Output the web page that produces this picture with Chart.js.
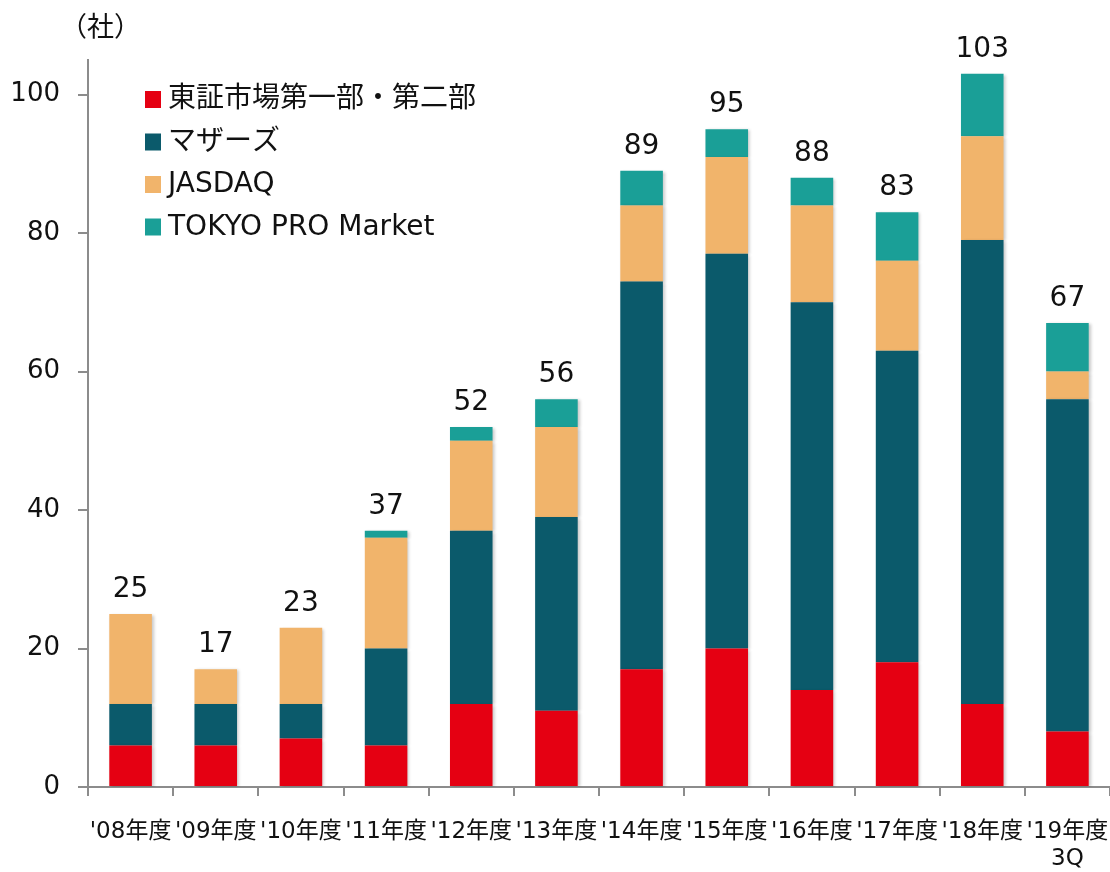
<!DOCTYPE html>
<html>
<head>
<meta charset="utf-8">
<script src="https://cdn.jsdelivr.net/npm/chart.js@4"></script>
<style>
  html, body { margin: 0; padding: 0; background: #fff; }
  #wrap { width: 1110px; height: 872px; }
</style>
</head>
<body>
<div id="wrap"><canvas id="chart"></canvas></div>
<script>
// データ（社数）
const years = ["'08年度", "'09年度", "'10年度", "'11年度", "'12年度", "'13年度",
    "'14年度", "'15年度", "'16年度", "'17年度", "'18年度", ["'19年度", "3Q"]];
const tosho = [6, 6, 7, 6, 12, 11, 17, 20, 14, 18, 12, 8];
const mothers = [6, 6, 5, 14, 25, 28, 56, 57, 56, 45, 67, 48];
const jasdaq = [13, 5, 11, 16, 13, 13, 11, 14, 14, 13, 15, 4];
const tpm = [0, 0, 0, 1, 2, 4, 5, 4, 4, 7, 9, 7];
const totals = [25, 17, 23, 37, 52, 56, 89, 95, 88, 83, 103, 67];
const yTicks = [0, 20, 40, 60, 80, 100];

const FONT = "'DejaVu Sans', 'Noto Sans CJK JP', sans-serif";
const COLORS = {
    tosho: '#e50012',
    mothers: '#0b5a6b',
    jasdaq: '#f1b46b',
    tpm: '#1a9f97',
    axis: '#8c8c8c'
};

// 棒の影
const shadowPlugin = {
    id: 'shadow',
    beforeDatasetsDraw(chart) {
        const ctx = chart.ctx;
        ctx.save();
        ctx.shadowColor = 'rgba(0,0,0,0.22)';
        ctx.shadowBlur = 3;
        ctx.shadowOffsetX = 2;
        ctx.shadowOffsetY = 1;
    },
    afterDatasetsDraw(chart) {
        chart.ctx.restore();
    }
};

// 合計ラベル・凡例・単位
const extrasPlugin = {
    id: 'extras',
    afterDraw(chart) {
        const ctx = chart.ctx;
        const x = chart.scales.x;
        const y = chart.scales.y;
        ctx.save();
        ctx.fillStyle = '#111';
        ctx.font = '28px ' + FONT;
        ctx.textAlign = 'center';
        ctx.textBaseline = 'alphabetic';
        totals.forEach((t, i) => {
            ctx.fillText(String(t), x.getPixelForValue(i), y.getPixelForValue(t) - 17);
        });

        // 単位
        ctx.textAlign = 'left';
        ctx.font = '27px ' + FONT;
        ctx.fillText('（社）', 60, 36);

        // 凡例
        ctx.font = '28px ' + FONT;
        ctx.textBaseline = 'middle';
        chart.data.datasets.forEach((ds, i) => {
            const cy = 99 + i * 42.5;
            ctx.fillStyle = ds.backgroundColor;
            ctx.fillRect(145, cy - 8, 16, 17);
            ctx.fillStyle = '#111';
            ctx.fillText(ds.label, 168, cy + 1);
        });
        ctx.restore();
    }
};

new Chart(document.getElementById('chart'), {
    type: 'bar',
    data: {
        labels: years,
        datasets: [
            { label: '東証市場第一部・第二部', data: tosho, backgroundColor: COLORS.tosho },
            { label: 'マザーズ', data: mothers, backgroundColor: COLORS.mothers },
            { label: 'JASDAQ', data: jasdaq, backgroundColor: COLORS.jasdaq },
            { label: 'TOKYO PRO Market', data: tpm, backgroundColor: COLORS.tpm }
        ]
    },
    options: {
        responsive: true,
        maintainAspectRatio: false,
        animation: false,
        layout: { padding: { top: 60, right: 0, bottom: 0, left: 0 } },
        datasets: {
            bar: { barPercentage: 0.5, categoryPercentage: 1.0, borderWidth: 0 }
        },
        plugins: {
            legend: { display: false },
            tooltip: { enabled: false }
        },
        scales: {
            x: {
                stacked: true,
                offset: true,
                grid: {
                    offset: true,
                    drawOnChartArea: false,
                    tickLength: 9,
                    color: COLORS.axis,
                    lineWidth: 2
                },
                border: { color: COLORS.axis, width: 2 },
                ticks: {
                    color: '#111',
                    font: { family: FONT, size: 23 },
                    autoSkip: false,
                    maxRotation: 0,
                    minRotation: 0,
                    padding: 22
                },
                afterFit(scale) {
                    scale.height = 85;
                    scale.paddingLeft = 0;
                    scale.paddingRight = 0;
                }
            },
            y: {
                stacked: true,
                min: 0,
                max: 105,
                afterBuildTicks(scale) {
                    scale.ticks = yTicks.map(v => ({ value: v }));
                },
                grid: {
                    drawOnChartArea: false,
                    tickLength: 10,
                    color: COLORS.axis,
                    lineWidth: 2
                },
                border: { color: COLORS.axis, width: 2 },
                ticks: {
                    color: '#111',
                    font: { family: FONT, size: 26 },
                    padding: 18
                },
                afterFit(scale) { scale.width = 88; }
            }
        }
    },
    plugins: [shadowPlugin, extrasPlugin]
});
</script>
</body>
</html>
